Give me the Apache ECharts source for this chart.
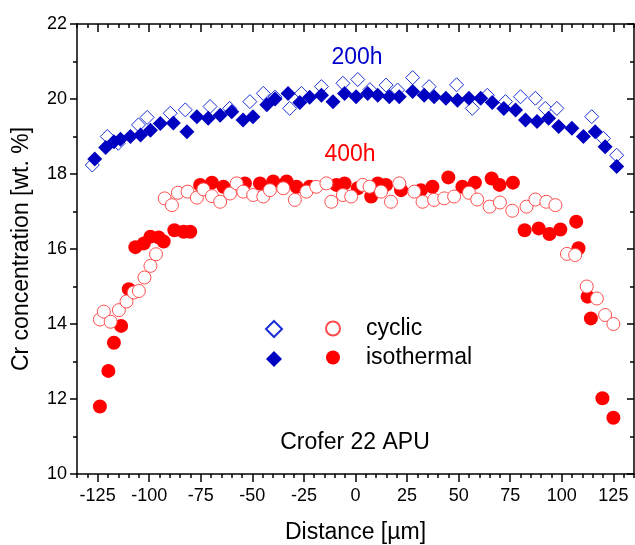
<!DOCTYPE html>
<html>
<head>
<meta charset="utf-8">
<script src="https://cdn.jsdelivr.net/npm/echarts@6/dist/echarts.min.js"></script>
<style>
  html, body { margin: 0; padding: 0; background: #fff; }
  #chart { width: 635px; height: 545px; }
</style>
</head>
<body>
<div id="chart"></div>
<script>
const xTicks = [-125, -100, -75, -50, -25, 0, 25, 50, 75, 100, 125];

// 200h, cyclic (open diamonds)
const cyclic200x = [-127.6, -120.3, -115, -105.2, -101, -89.8, -82.5, -70.5, -61, -51.2, -44.7, -39, -31.9, -26.2, -16.5, -6.1, 1.1, 7, 14.8, 20.4, 27.7, 35.7, 49, 56.6, 63.9, 72.7, 80, 87.2, 92, 97.6, 114.5, 120.2, 126.6];
const cyclic200y = [18.24, 19.0, 18.82, 19.31, 19.51, 19.62, 19.71, 19.8, 19.75, 19.93, 20.15, 20.05, 19.75, 20.15, 20.33, 20.42, 20.52, 20.25, 20.37, 20.24, 20.57, 20.33, 20.38, 19.75, 20.1, 19.93, 20.06, 20.02, 19.75, 19.75, 19.53, 18.95, 18.5];

// 200h, isothermal (filled diamonds)
const iso200x = [-126.4, -121.1, -117.1, -113.9, -109.1, -104.2, -99.4, -94.6, -88.3, -81.7, -76.9, -71.4, -65.6, -60, -54.5, -49.7, -43, -39, -32.7, -27, -22.2, -16.5, -10.9, -5.3, 0.3, 5.9, 10.8, 16.4, 21.2, 27.7, 33.3, 38.1, 43.8, 49.4, 55, 60.7, 66.3, 71.9, 77.6, 82.4, 88, 93.6, 98.5, 104.9, 110.5, 116.2, 121, 126.6];
const iso200y = [18.4, 18.71, 18.86, 18.93, 19.0, 19.04, 19.17, 19.35, 19.36, 19.13, 19.53, 19.49, 19.57, 19.66, 19.44, 19.53, 19.85, 20.0, 20.15, 19.91, 20.05, 20.1, 19.93, 20.15, 20.06, 20.15, 20.1, 20.06, 20.06, 20.2, 20.1, 20.06, 20.02, 19.97, 20.02, 20.02, 19.91, 19.75, 19.71, 19.44, 19.4, 19.49, 19.27, 19.22, 19.0, 19.13, 18.73, 18.2];

// 400h, isothermal (filled circles)
const iso400x = [-123.9, -119.8, -117.1, -113.6, -109.9, -106.7, -102.6, -99.4, -95.4, -93, -87.8, -83.3, -80.1, -75.3, -69.6, -64, -53.6, -46.3, -39.9, -33.4, -28.6, -22.2, -9.3, -5.3, 1.1, 7.6, 10.8, 14.8, 22.1, 31.7, 37.3, 45, 51.8, 57.9, 66, 69.8, 76.3, 82, 88.8, 94, 99.3, 107, 108.1, 112.5, 114.1, 119.7, 125];
const iso400y = [11.8, 12.75, 13.5, 13.95, 14.93, 16.05, 16.15, 16.33, 16.31, 16.2, 16.5, 16.46, 16.46, 17.71, 17.77, 17.66, 17.75, 17.75, 17.8, 17.8, 17.66, 17.66, 17.71, 17.75, 17.62, 17.4, 17.75, 17.71, 17.57, 17.57, 17.66, 17.91, 17.66, 17.77, 17.88, 17.71, 17.77, 16.5, 16.55, 16.4, 16.52, 16.73, 16.02, 14.73, 14.15, 12.02, 11.5];

// 400h, cyclic (open circles)
const cyclic400x = [-123.9, -122, -118.7, -114.7, -111, -107.5, -105, -102.3, -99.4, -96.7, -92.5, -89, -86.1, -81.4, -76.9, -73.7, -69.6, -65.6, -60.8, -57.6, -54.4, -49.6, -44.7, -41.5, -35, -29.4, -23.8, -19, -14.1, -11.7, -6.1, -2.1, 3.5, 6.8, 12.4, 17.2, 21.2, 28.5, 32.5, 38.1, 43, 47.8, 55, 59, 65, 70, 76, 82.9, 87.2, 92.5, 96.9, 102.5, 106.5, 112.1, 117, 121, 125];
const cyclic400y = [14.12, 14.33, 14.06, 14.37, 14.6, 14.84, 14.88, 15.24, 15.55, 15.86, 17.35, 17.17, 17.5, 17.53, 17.37, 17.59, 17.41, 17.26, 17.48, 17.75, 17.53, 17.44, 17.4, 17.57, 17.62, 17.31, 17.53, 17.66, 17.75, 17.26, 17.44, 17.4, 17.71, 17.66, 17.53, 17.26, 17.75, 17.53, 17.26, 17.31, 17.35, 17.4, 17.5, 17.32, 17.13, 17.24, 17.02, 17.13, 17.32, 17.26, 17.17, 15.87, 15.84, 15.0, 14.68, 14.24, 14.0];

const FONT = 'Liberation Sans, Arial, sans-serif';
const BLUE = '#0000c0';
const RED = '#ff0000';
const zip = (xs, ys) => xs.map((x, i) => [x, ys[i]]);

const chart = echarts.init(document.getElementById('chart'));

const axisLine = { show: true, onZero: false, lineStyle: { color: '#000', width: 1.5 } };
const noLine = { show: false, onZero: false };
const tickStyle = { color: '#000', width: 1.5 };

chart.setOption({
  animation: false,
  textStyle: { fontFamily: FONT },
  grid: { left: 77, right: 1, top: 24, bottom: 71, outerBoundsMode: 'none', containLabel: false },
  legend: [
    {
      data: ['cyclic 200h', 'isothermal 200h'],
      orient: 'vertical',
      left: 265, top: 320, padding: 0,
      itemWidth: 16, itemHeight: 16, itemGap: 13,
      selectedMode: false,
      formatter: () => ''
    },
    {
      data: ['cyclic 400h', 'isothermal 400h'],
      orient: 'vertical',
      left: 325, top: 317, padding: 0,
      itemWidth: 14, itemHeight: 14, itemGap: 6,
      selectedMode: false,
      formatter: (name) => name.split(' ')[0],
      textStyle: { fontSize: 23, color: '#000', fontFamily: FONT, padding: [0, 0, 0, 21] }
    }
  ],
  xAxis: [
    {
      type: 'value', min: -135, max: 135, position: 'bottom',
      name: 'Distance [\u00b5m]', nameLocation: 'middle', nameGap: 47,
      nameTextStyle: { fontSize: 23, color: '#000', fontFamily: FONT },
      axisLine,
      axisTick: { customValues: xTicks, length: 8, lineStyle: tickStyle },
      axisLabel: { customValues: xTicks, fontSize: 18, color: '#000', margin: 13, fontFamily: FONT },
      splitLine: { show: false }
    },
    {
      type: 'value', min: -135, max: 135, interval: 5, position: 'bottom',
      axisLine: noLine,
      axisTick: { length: 4, lineStyle: tickStyle },
      axisLabel: { show: false },
      splitLine: { show: false }
    },
    {
      type: 'value', min: -135, max: 135, position: 'top',
      axisLine,
      axisTick: { customValues: xTicks, inside: true, length: 8, lineStyle: tickStyle },
      axisLabel: { show: false, customValues: xTicks },
      splitLine: { show: false }
    },
    {
      type: 'value', min: -135, max: 135, interval: 5, position: 'top',
      axisLine: noLine,
      axisTick: { inside: true, length: 4, lineStyle: tickStyle },
      axisLabel: { show: false },
      splitLine: { show: false }
    }
  ],
  yAxis: [
    {
      type: 'value', min: 10, max: 22, interval: 2, position: 'left',
      name: 'Cr concentration [wt. %]', nameLocation: 'middle', nameGap: 44,
      nameTextStyle: { fontSize: 23, color: '#000', fontFamily: FONT },
      axisLine,
      axisTick: { length: 7, lineStyle: tickStyle },
      minorTick: { show: true, splitNumber: 2, length: 4, lineStyle: tickStyle },
      axisLabel: { fontSize: 18, color: '#000', margin: 10, fontFamily: FONT },
      splitLine: { show: false }
    },
    {
      type: 'value', min: 10, max: 22, interval: 2, position: 'right',
      axisLine,
      axisTick: { inside: true, length: 7, lineStyle: tickStyle },
      minorTick: { show: true, splitNumber: 2, length: 4, lineStyle: tickStyle },
      axisLabel: { show: false },
      splitLine: { show: false }
    }
  ],
  graphic: [
    { type: 'text', x: 357, y: 58, style: { text: '200h', fill: '#0000cc', font: '23px ' + FONT, align: 'center', verticalAlign: 'middle' } },
    { type: 'text', x: 350, y: 155, style: { text: '400h', fill: RED, font: '23px ' + FONT, align: 'center', verticalAlign: 'middle' } },
    { type: 'text', x: 355, y: 443, style: { text: 'Crofer 22 APU', fill: '#000', font: '23px ' + FONT, align: 'center', verticalAlign: 'middle' } }
  ],
  series: [
    {
      name: 'cyclic 200h', type: 'scatter', symbol: 'diamond', symbolSize: 14,
      itemStyle: { color: '#fff', borderColor: '#1a2ed6', borderWidth: 1, opacity: 1 },
      data: zip(cyclic200x, cyclic200y)
    },
    {
      name: 'isothermal 200h', type: 'scatter', symbol: 'diamond', symbolSize: 15,
      itemStyle: { color: BLUE, opacity: 1 },
      data: zip(iso200x, iso200y)
    },
    {
      name: 'isothermal 400h', type: 'scatter', symbol: 'circle', symbolSize: 14,
      itemStyle: { color: RED, opacity: 1 },
      data: zip(iso400x, iso400y)
    },
    {
      name: 'cyclic 400h', type: 'scatter', symbol: 'circle', symbolSize: 13,
      itemStyle: { color: '#fff', borderColor: '#ff4d4d', borderWidth: 1, opacity: 1 },
      data: zip(cyclic400x, cyclic400y)
    }
  ]
});

window.addEventListener('resize', () => chart.resize());
</script>
</body>
</html>
